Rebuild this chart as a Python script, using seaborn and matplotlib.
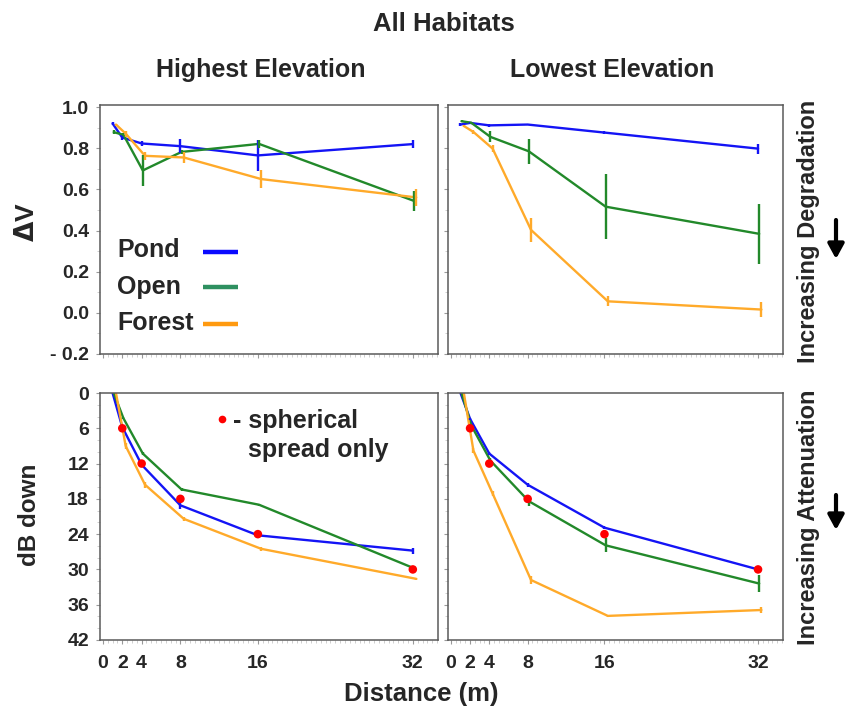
import matplotlib
matplotlib.use("Agg")
import matplotlib.pyplot as plt
from matplotlib.patches import FancyArrowPatch
from matplotlib.ticker import FixedLocator, FixedFormatter, MultipleLocator
import pandas as pd
import seaborn as sns

# ---------------- data ----------------
distances = [1, 2, 4, 8, 16, 32]
habitats = ["Pond", "Open", "Forest"]
x_tick_values = [0, 2, 4, 8, 16, 32]
x_tick_labels = ["0", "2", "4", "8", "16", "32"]
dv_tick_values = [-0.2, 0.0, 0.2, 0.4, 0.6, 0.8, 1.0]
dv_tick_labels = ["- 0.2", "0.0", "0.2", "0.4", "0.6", "0.8", "1.0"]
db_tick_values = [0, 6, 12, 18, 24, 30, 36, 42]
db_tick_labels = ["0", "6", "12", "18", "24", "30", "36", "42"]

# Delta V - highest elevation
dv_high_pond = [0.92, 0.852, 0.823, 0.81, 0.765, 0.82]
dv_high_pond_err = [0.005, 0.012, 0.013, 0.035, 0.075, 0.018]
dv_high_open = [0.878, 0.865, 0.692, 0.782, 0.821, 0.544]
dv_high_open_err = [0.01, 0.008, 0.075, 0.01, 0.02, 0.05]
dv_high_forest = [0.915, 0.871, 0.763, 0.755, 0.65, 0.561]
dv_high_forest_err = [0.005, 0.015, 0.02, 0.025, 0.045, 0.04]

# Delta V - lowest elevation
dv_low_pond = [0.915, 0.923, 0.911, 0.915, 0.876, 0.798]
dv_low_pond_err = [0.008, 0.005, 0.008, 0.004, 0.006, 0.024]
dv_low_open = [0.931, 0.924, 0.855, 0.785, 0.516, 0.384]
dv_low_open_err = [0.005, 0.005, 0.027, 0.062, 0.157, 0.146]
dv_low_forest = [0.908, 0.879, 0.798, 0.403, 0.056, 0.016]
dv_low_forest_err = [0.005, 0.008, 0.018, 0.06, 0.024, 0.037]

# dB down - highest elevation
db_high_pond = [0.0, 5.8, 12.2, 19.1, 24.2, 26.8]
db_high_pond_err = [0.0, 0.3, 0.3, 0.65, 0.4, 0.5]
db_high_open = [0.0, 4.3, 10.3, 16.4, 19.0, 29.8]
db_high_open_err = [0.0, 0.2, 0.3, 0.3, 0.2, 0.3]
db_high_forest = [0.0, 9.0, 15.6, 21.4, 26.5, 31.6]
db_high_forest_err = [0.0, 0.5, 0.5, 0.4, 0.3, 0.2]

# dB down - lowest elevation
db_low_pond = [0.0, 4.4, 10.3, 15.6, 22.9, 30.0]
db_low_pond_err = [0.0, 0.2, 0.2, 0.3, 0.3, 0.3]
db_low_open = [0.0, 5.5, 11.5, 18.4, 25.9, 32.4]
db_low_open_err = [0.0, 0.3, 0.4, 0.8, 1.2, 1.4]
db_low_forest = [0.0, 9.8, 17.1, 31.8, 37.9, 36.9]
db_low_forest_err = [0.0, 0.4, 0.4, 0.7, 0.2, 0.5]

# spherical spreading reference
spherical_distances = [2, 4, 8, 16, 32]
spherical_db = [6, 12, 18, 24, 30]

# ---------------- style ----------------
line_colors = {"Pond": "#1414F5", "Open": "#22892A", "Forest": "#FFAA2A"}
legend_colors = {"Pond": "#0A0AFF", "Open": "#2E9060", "Forest": "#FF9A10"}
series_offset = {"Pond": 0.0, "Open": 0.12, "Forest": 0.35}

sns.set_style("white")
plt.rcParams["font.family"] = ["Liberation Sans", "DejaVu Sans"]
plt.rcParams["font.weight"] = "bold"
plt.rcParams["axes.labelweight"] = "bold"


def make_frame(panel, habitat, values, errors):
    return pd.DataFrame({"panel": panel, "habitat": habitat,
                         "distance": distances, "value": values, "err": errors})


df = pd.concat([
    make_frame("dv_high", "Pond", dv_high_pond, dv_high_pond_err),
    make_frame("dv_high", "Open", dv_high_open, dv_high_open_err),
    make_frame("dv_high", "Forest", dv_high_forest, dv_high_forest_err),
    make_frame("dv_low", "Pond", dv_low_pond, dv_low_pond_err),
    make_frame("dv_low", "Open", dv_low_open, dv_low_open_err),
    make_frame("dv_low", "Forest", dv_low_forest, dv_low_forest_err),
    make_frame("db_high", "Pond", db_high_pond, db_high_pond_err),
    make_frame("db_high", "Open", db_high_open, db_high_open_err),
    make_frame("db_high", "Forest", db_high_forest, db_high_forest_err),
    make_frame("db_low", "Pond", db_low_pond, db_low_pond_err),
    make_frame("db_low", "Open", db_low_open, db_low_open_err),
    make_frame("db_low", "Forest", db_low_forest, db_low_forest_err),
], ignore_index=True)
df["x"] = df["distance"] + df["habitat"].map(series_offset)

W, H = 849, 712
fig = plt.figure(figsize=(W / 100, H / 100), dpi=100)


def fig_axes(left, top, right, bottom):
    return fig.add_axes([left / W, 1 - bottom / H, (right - left) / W, (bottom - top) / H])


axes = {
    "dv_high": fig_axes(100, 105, 438, 354),
    "dv_low": fig_axes(448, 105, 783, 354),
    "db_high": fig_axes(100, 393, 438, 640),
    "db_low": fig_axes(448, 393, 783, 640),
}

for panel, ax in axes.items():
    sub = df[df["panel"] == panel]
    sns.lineplot(data=sub, x="x", y="value", hue="habitat", hue_order=habitats,
                 palette=line_colors, estimator=None, sort=False, legend=False,
                 linewidth=1.7, ax=ax)
    for h in habitats:
        s = sub[sub["habitat"] == h]
        ax.errorbar(s["x"], s["value"], yerr=s["err"], fmt="none",
                    ecolor=line_colors[h], elinewidth=1.7, capsize=0)
    if panel.startswith("db"):
        sns.scatterplot(x=spherical_distances, y=spherical_db, color="#FF0000",
                        s=38, edgecolor="none", zorder=6, ax=ax)
        ax.set_ylim(42, 0)
        ax.yaxis.set_major_locator(FixedLocator(db_tick_values))
        ax.yaxis.set_major_formatter(FixedFormatter(db_tick_labels))
        ax.yaxis.set_minor_locator(MultipleLocator(2))
    else:
        ax.set_ylim(-0.2, 1.01)
        ax.yaxis.set_major_locator(FixedLocator(dv_tick_values))
        ax.yaxis.set_major_formatter(FixedFormatter(dv_tick_labels))
        ax.yaxis.set_minor_locator(MultipleLocator(0.1))
    ax.set_xlim(-0.3, 34.6)
    ax.xaxis.set_major_locator(FixedLocator(x_tick_values))
    ax.xaxis.set_major_formatter(FixedFormatter(x_tick_labels))
    ax.xaxis.set_minor_locator(MultipleLocator(0.5))
    ax.set_xlabel("")
    ax.set_ylabel("")
    for sp in ax.spines.values():
        sp.set_color("#5a5a5a")
        sp.set_linewidth(1.1)
    ax.tick_params(axis="both", which="major", direction="out", length=3, width=0.8,
                   color="#999999", labelsize=14, pad=5)
    ax.tick_params(axis="both", which="minor", direction="out", length=2, width=0.6,
                   color="#c8c8c8")
    ax.tick_params(axis="x", which="major", pad=8)
    ax.tick_params(left=True, bottom=True, which="both")
    if panel.startswith("dv"):
        ax.tick_params(axis="x", labelbottom=False)
    if panel.endswith("low"):
        ax.tick_params(axis="y", labelleft=False)

# legend (top-left panel)
axl = axes["dv_high"]
legend_rows = [("Pond", 0.388, 0.410), ("Open", 0.241, 0.269), ("Forest", 0.096, 0.120)]
for name, ty, ly in legend_rows:
    axl.text(0.050, ty, name, transform=axl.transAxes, fontsize=18,
             fontweight="bold", ha="left", va="baseline")
    axl.plot([0.305, 0.408], [ly, ly], transform=axl.transAxes,
             color=legend_colors[name], linewidth=3.2, solid_capstyle="butt")

# spherical spread note (bottom-left panel)
axb = axes["db_high"]
axb.plot([0.361], [0.895], "o", transform=axb.transAxes, color="#FF0000",
         markersize=5.5, markeredgewidth=0)
axb.text(0.393, 0.858, "- spherical", transform=axb.transAxes, fontsize=18,
         fontweight="bold", ha="left", va="baseline")
axb.text(0.438, 0.741, "spread only", transform=axb.transAxes, fontsize=18,
         fontweight="bold", ha="left", va="baseline")


def ftext(x, y, s, **kw):
    fig.text(x / W, 1 - y / H, s, **kw)


ftext(444, 31, "All Habitats", fontsize=18.5, fontweight="bold", ha="center", va="baseline")
ftext(261, 77, "Highest Elevation", fontsize=18, fontweight="bold", ha="center", va="baseline")
ftext(612, 77, "Lowest Elevation", fontsize=18, fontweight="bold", ha="center", va="baseline")
ftext(421, 701, "Distance (m)", fontsize=18.5, fontweight="bold", ha="center", va="baseline")
ftext(27, 222, r"$\Delta$V", fontsize=19, fontweight="bold", ha="center", va="center",
      rotation=90)
ftext(30, 515, "dB down", fontsize=17.5, fontweight="bold", ha="center", va="center",
      rotation=90)
ftext(808, 231, "Increasing Degradation", fontsize=17, fontweight="bold",
      ha="center", va="center", rotation=90)
ftext(808, 517, "Increasing Attenuation", fontsize=17, fontweight="bold",
      ha="center", va="center", rotation=90)

for y0, y1 in [(220, 259), (495, 530)]:
    arr = FancyArrowPatch((836 / W, 1 - y0 / H), (836 / W, 1 - y1 / H),
                          transform=fig.transFigure,
                          arrowstyle="-|>,head_length=0.55,head_width=0.3",
                          mutation_scale=16, linewidth=3.0, color="black",
                          shrinkA=0, shrinkB=0)
    fig.add_artist(arr)

fig.savefig("out.png", dpi=100)
